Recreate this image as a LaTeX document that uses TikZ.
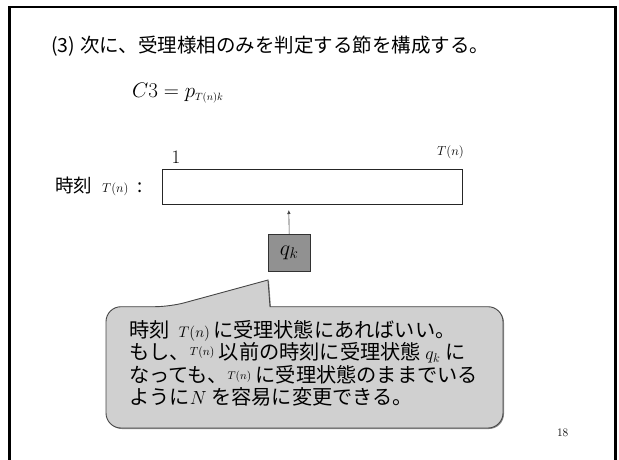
\RequirePackage{fix-cm}
\documentclass[tikz,border=0pt]{standalone}
\usepackage{fontspec}
\newfontfamily\jp{Noto Sans CJK JP}
\usetikzlibrary{arrows.meta}
\definecolor{callfill}{RGB}{208,208,208}
\definecolor{calldraw}{RGB}{70,70,70}
\definecolor{qfill}{RGB}{145,145,145}
\definecolor{qdraw}{RGB}{50,50,50}
\tikzset{
  jptext/.style={font=\jp\fontsize{20.2}{22.4}\selectfont, inner sep=0pt},
  tapebox/.style={draw=black!85, line width=0.7pt, inner sep=0pt},
  statebox/.style={draw=qdraw, fill=qfill, line width=0.7pt, inner sep=0pt, font=\fontsize{22}{22}\selectfont},
  callbox/.style={fill=callfill, draw=calldraw, line width=0.9pt},
  arr/.style={draw=black!75, line width=0.6pt, -{Latex[length=4pt,width=3.5pt]}}
}
\begin{document}
\begin{tikzpicture}[x=1pt,y=-1pt]
\useasboundingbox (0,0) rectangle (619,459);
% frame
\draw[line width=2.3pt] (9.5,460) -- (9.5,6.7) -- (615.5,6.7) -- (615.5,460);
% title
\node[jptext, anchor=west, font=\jp\fontsize{19.5}{22}\selectfont] (title) at (51,46) {(3)\hspace{5pt}次に、受理様相のみを判定する節を構成する。};
% formula
\node[anchor=west, inner sep=0pt, font=\fontsize{21}{21}\selectfont] (c3) at (132,93) {$C3 = p_{\scriptscriptstyle T(n)k}$};
% tape
\node[tapebox, minimum width=300pt, minimum height=35pt, anchor=north west] (tape) at (161.7,169) {};
\node[inner sep=0pt, font=\fontsize{19}{19}\selectfont] (one) at (176,157.5) {1};
\node[inner sep=0pt, anchor=east, font=\fontsize{13}{13}\selectfont] (tn) at (464,152) {$T(n)$};
\node[jptext, anchor=west, font=\jp\fontsize{18.5}{18.5}\selectfont] (lbl) at (55,186) {時刻\hspace{10pt}{\fontsize{12.8}{12.8}\selectfont$T(n)$}\hspace{9pt}:};
% state box and arrow
\node[statebox, minimum width=42.3pt, minimum height=37pt, anchor=north west] (qk) at (267.7,234) {$q_k$};
\coordinate (tip) at (288.8,210);
\draw[arr] (qk.north) -- (tip);
% callout shadow
\fill[black!45, shift={(1,1)}] (170,306.7) -- (268,280) -- (270,306.7) -- (300,306.7) [rounded corners=15pt] -- (503,306.7) -- (503,428) -- (106,428) -- (106,306.7) -- cycle;
% callout
\draw[callbox] (170,306.7) -- (268,280) -- (270,306.7) -- (300,306.7) [rounded corners=15pt] -- (503,306.7) -- (503,428) -- (106,428) -- (106,306.7) -- cycle;
\node[jptext, anchor=north west, align=left] (ctext) at (129,320) {%
時刻\hspace{9pt}{\fontsize{15.3}{15.3}\selectfont$T(n)$}\hspace{3pt}に受理状態にあればいい。\\
もし、\raisebox{4pt}{\fontsize{11.7}{11.7}\selectfont$T(n)$} 以前の時刻に受理状態 {\fontsize{18}{18}\selectfont$q_k$} に\\
なっても、\raisebox{3pt}{\fontsize{11.2}{11.2}\selectfont$T(n)$} に受理状態のままでいる\\
ように{\fontsize{19}{19}\selectfont$N$} を容易に変更できる。};
% page number
\node[inner sep=0pt, anchor=east, font=\fontsize{11.5}{11.5}\selectfont] (page) at (568.5,433) {18};
\end{tikzpicture}
\end{document}
